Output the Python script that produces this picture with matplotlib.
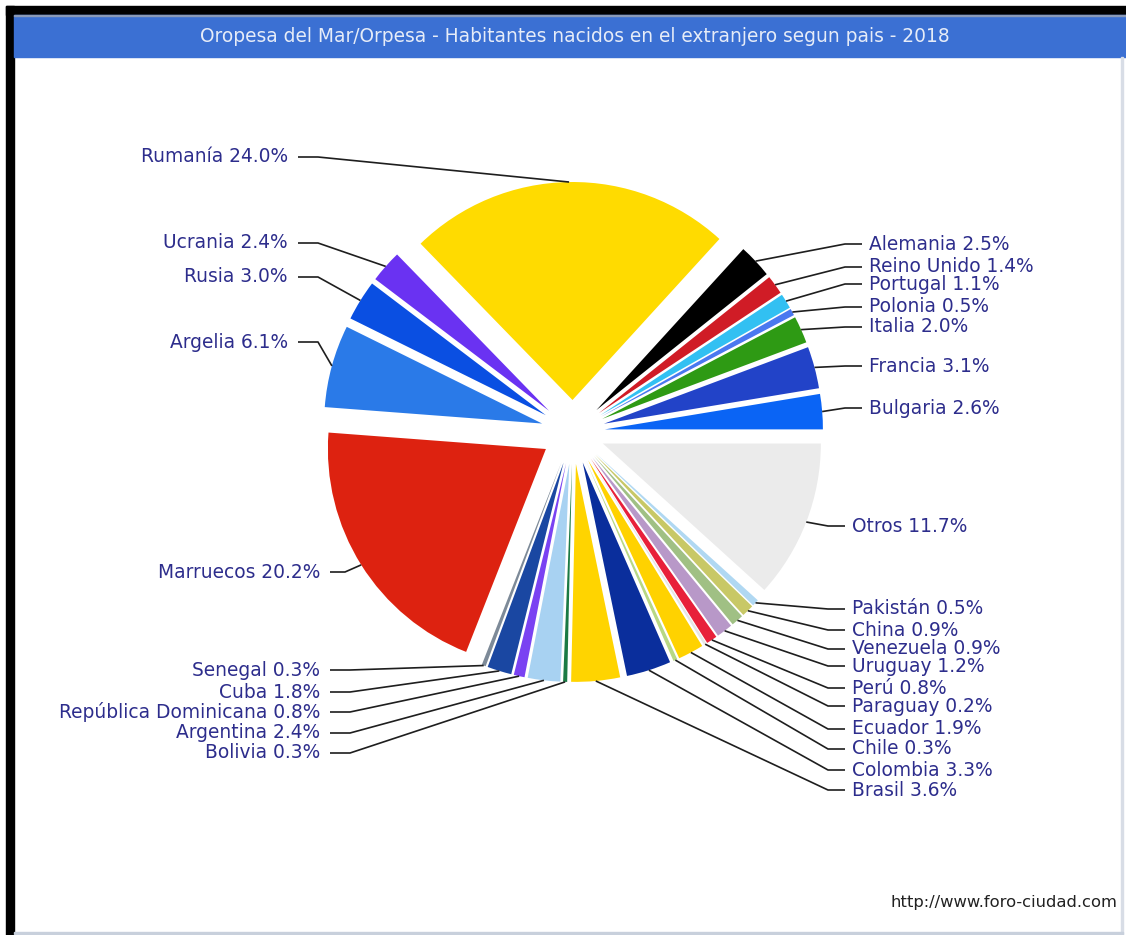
import numpy as np
import matplotlib.pyplot as plt
from matplotlib.patches import Rectangle

# Habitantes nacidos en el extranjero, % por pais (orden del grafico)
paises = ["Bulgaria", "Francia", "Italia", "Polonia", "Portugal", "Reino Unido",
          "Alemania", "Rumanía", "Ucrania", "Rusia", "Argelia", "Marruecos",
          "Senegal", "Cuba", "República Dominicana", "Argentina", "Bolivia",
          "Brasil", "Colombia", "Chile", "Ecuador", "Paraguay", "Perú",
          "Uruguay", "Venezuela", "China", "Pakistán", "Otros"]
porcentajes = [2.6, 3.1, 2.0, 0.5, 1.1, 1.4, 2.5, 24.0, 2.4, 3.0, 6.1, 20.2,
               0.3, 1.8, 0.8, 2.4, 0.3, 3.6, 3.3, 0.3, 1.9, 0.2, 0.8, 1.2,
               0.9, 0.9, 0.5, 11.7]
colores = ["#0a64f5", "#2243c8", "#2e9a14", "#4a78f0", "#32c0f2", "#d01c26",
           "#000000", "#ffdb00", "#6a32f2", "#0a4fe2", "#2a7ae8", "#dd2210",
           "#7d8a98", "#1a47a2", "#7a42f2", "#a8d2f2", "#1a7a44", "#ffd400",
           "#0a2e9c", "#b8d884", "#ffd200", "#e6e6e6", "#e8203a", "#b898c8",
           "#a0c084", "#c8c866", "#b0d8f2", "#ebebeb"]

# posicion vertical (px) y borde del texto (px) de cada etiqueta
etiqueta_y = [408, 366, 327, 307, 284, 267, 244, 157, 243, 277, 342, 572,
              670, 692, 712, 733, 753, 790, 770, 749, 729, 706, 688, 666,
              649, 630, 609, 526]
etiqueta_x = [869] * 7 + [288] * 4 + [320] * 6 + [852] * 11

W, H = 1126, 935
CX, CY, R = 573, 432, 218      # centro y radio de la tarta en px
EXPL = 32 / R

def px(x, y):
    return (x - CX) / R, (CY - y) / R

fig = plt.figure(figsize=(W / 100, H / 100), dpi=100)
fig.patch.set_facecolor("white")

# marco negro, barra de titulo y bordes grises
def rect(x0, y0, x1, y1, color):
    fig.patches.append(Rectangle((x0 / W, 1 - y1 / H), (x1 - x0) / W, (y1 - y0) / H,
                                 transform=fig.transFigure, color=color, zorder=0))

rect(6, 6, W, 15, "black")
rect(6, 6, 14, H, "black")
rect(14, 15, W, 57, "#3b70d3")
rect(14, 15, W, 16, "#8a9ab8")
rect(1121, 57, 1123, H, "#d8dde6")
rect(14, 932, 1123, 934, "#c8d0dc")

fig.text(575 / W, 1 - 37 / H,
         "Oropesa del Mar/Orpesa - Habitantes nacidos en el extranjero segun pais - 2018",
         ha="center", va="center", color="#e6ecf8", fontsize=13.4)
fig.text(1118 / W, 1 - 903 / H, "http://www.foro-ciudad.com",
         ha="right", va="center", color="#222222", fontsize=11.8)

ax = fig.add_axes([0, 0, 1, 1])
ax.pie(porcentajes, colors=colores, explode=[EXPL] * len(porcentajes),
       startangle=0, counterclock=True, radius=1, center=(0, 0),
       wedgeprops=dict(linewidth=0))
ax.set_xlim(-CX / R, (W - CX) / R)
ax.set_ylim(-(H - CY) / R, CY / R)
ax.set_aspect("auto")
ax.axis("off")

# etiquetas con lineas guia
fr = np.array(porcentajes) / sum(porcentajes)
inicio = np.concatenate([[0], np.cumsum(fr)[:-1]])
for nombre, p, a0, f, ly, lx in zip(paises, porcentajes, inicio, fr, etiqueta_y, etiqueta_x):
    th = 2 * np.pi * (a0 + f / 2)
    ancla = ((1 + EXPL) * np.cos(th), (1 + EXPL) * np.sin(th))
    texto = f"{nombre} {p:.1f}%"
    if np.cos(th) >= 0:
        x_fin, x_codo = lx - 7, lx - 24
        ha = "left"
    else:
        x_fin, x_codo = lx + 10, lx + (25 if nombre == "Marruecos" else 30)
        ha = "right"
    p_fin = px(x_fin, ly)
    p_codo = px(x_codo, ly)
    ax.plot([p_fin[0], p_codo[0], ancla[0]], [p_fin[1], p_codo[1], ancla[1]],
            color="#1e1e1e", lw=1.2, solid_capstyle="butt")
    tx, ty = px(lx, ly)
    ax.text(tx, ty, texto, ha=ha, va="center", color="#2d2d8c", fontsize=13.4)

fig.savefig("out.png", dpi=100)
